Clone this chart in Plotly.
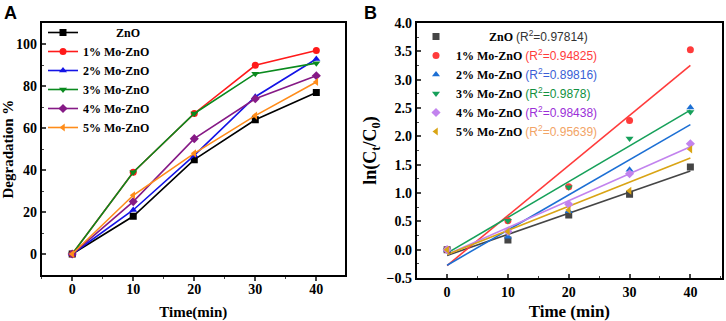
import numpy as np
import plotly.graph_objects as go

# ---------------- data ----------------
time_min = [0, 10, 20, 30, 40]
series_names = ["ZnO", "1% Mo-ZnO", "2% Mo-ZnO", "3% Mo-ZnO", "4% Mo-ZnO", "5% Mo-ZnO"]

# Panel A: degradation %
deg_zno = [0, 18, 45, 64, 77]
deg_mo1 = [0, 39, 67, 90, 97]
deg_mo2 = [0, 21, 47, 75, 93]
deg_mo3 = [0, 39, 67, 86, 91]
deg_mo4 = [0, 25, 55, 74, 85]
deg_mo5 = [0, 28, 48, 66, 82]

# Panel B: ln(Ct/C0)
ln_zno = [0, 0.17, 0.61, 0.98, 1.46]
ln_mo1 = [0, 0.51, 1.11, 2.28, 3.53]
ln_mo2 = [0, 0.23, 0.68, 1.41, 2.51]
ln_mo3 = [0, 0.51, 1.10, 1.96, 2.43]
ln_mo4 = [0, 0.32, 0.80, 1.34, 1.87]
ln_mo5 = [0, 0.32, 0.70, 1.04, 1.77]
r2_values = ["0.97814", "0.94825", "0.89816", "0.9878", "0.98438", "0.95639"]

x_ticks_A = [0, 10, 20, 30, 40]
y_ticks_A = [0, 20, 40, 60, 80, 100]
y_ticks_B = [-0.5, 0.0, 0.5, 1.0, 1.5, 2.0, 2.5, 3.0, 3.5, 4.0]

deg_series = [deg_zno, deg_mo1, deg_mo2, deg_mo3, deg_mo4, deg_mo5]
ln_series = [ln_zno, ln_mo1, ln_mo2, ln_mo3, ln_mo4, ln_mo5]

# ---------------- styles ----------------
colors_A = ["#000000", "#ff1a1a", "#1414e6", "#0a8a1e", "#861a86", "#ff8c1a"]
colors_B = ["#454545", "#ff3b3b", "#1c6fd4", "#16a05a", "#c283ee", "#d9a414"]
r2_colors = ["#333333", "#ff3b3b", "#3a5fd6", "#11913f", "#9b30d8", "#f2a466"]
symbols = ["square", "circle", "triangle-up", "triangle-down", "diamond", "triangle-left"]

SERIF = "Liberation Serif"
SANS = "Liberation Sans"
W, H = 726, 321

fig = go.Figure()

pad_A = "\u00a0" * 11
pad_B = "\u00a0" * 11

# Panel A traces
for i, name in enumerate(series_names):
    fig.add_trace(go.Scatter(
        x=time_min, y=deg_series[i], mode="lines+markers",
        name=(pad_A + name) if i == 0 else name,
        line=dict(color=colors_A[i], width=1.6),
        marker=dict(symbol=symbols[i], size=7, color=colors_A[i]),
        xaxis="x", yaxis="y", legend="legend",
    ))

# Panel B: fitted lines (computed from the data) and markers
for i, name in enumerate(series_names):
    slope, intercept = np.polyfit(time_min, ln_series[i], 1)
    xs = np.array([time_min[0], time_min[-1]], dtype=float)
    fig.add_trace(go.Scatter(
        x=xs, y=slope * xs + intercept, mode="lines",
        line=dict(color=colors_B[i], width=1.6),
        showlegend=False, hoverinfo="skip",
        xaxis="x2", yaxis="y2",
    ))
for i, name in enumerate(series_names):
    label = (pad_B + name) if i == 0 else name
    label += (" <span style='font-family:%s;font-weight:normal;font-size:12px;color:%s'>"
              "(R<sup>2</sup>=%s)</span>" % (SANS, r2_colors[i], r2_values[i]))
    fig.add_trace(go.Scatter(
        x=time_min, y=ln_series[i], mode="markers", name=label,
        marker=dict(symbol=symbols[i], size=7, color=colors_B[i]),
        xaxis="x2", yaxis="y2", legend="legend2",
    ))

tick_font = dict(family=SERIF, size=14, color="black", weight="bold")
title_font = dict(family=SERIF, size=15, color="black", weight="bold")

frame = dict(showline=True, linewidth=2, linecolor="black", mirror=True,
             showgrid=False, zeroline=False, automargin=False)

fig.update_layout(
    width=W, height=H,
    margin=dict(l=0, r=0, t=0, b=0, pad=0, autoexpand=False),
    paper_bgcolor="white", plot_bgcolor="white",
    xaxis=dict(domain=[41.7 / W, 345 / W], range=[-5, 44.7], anchor="y",
               tickvals=x_ticks_A, ticks="outside", ticklen=4, tickwidth=1.5,
               ticklabelstandoff=-4,
               minor=dict(dtick=5, tick0=0, ticks="outside", ticklen=2, tickwidth=1.2),
               tickfont=tick_font,
               title=dict(text="Time(min)", font=title_font, standoff=11), **frame),
    yaxis=dict(domain=[1 - 275 / H, 1 - 23.3 / H], range=[-10, 110], anchor="x",
               tickvals=y_ticks_A, ticks="inside", ticklen=4, tickwidth=1.5,
               minor=dict(dtick=10, tick0=0, ticks="inside", ticklen=2, tickwidth=1.2),
               tickfont=tick_font,
               title=dict(text="Degradation %", font=title_font, standoff=4), **frame),
    xaxis2=dict(domain=[416.7 / W, 722 / W], range=[-5, 45.2], anchor="y2",
                tickvals=x_ticks_A, ticks="inside", ticklen=4, tickwidth=1.5,
                minor=dict(dtick=5, tick0=0, ticks="inside", ticklen=2, tickwidth=1.2),
                tickfont=dict(family=SERIF, size=14, color="black", weight="bold"),
                title=dict(text="Time (min)", font=dict(family=SERIF, size=17, color="black", weight="bold"),
                           standoff=6), **frame),
    yaxis2=dict(domain=[1 - 278 / H, 1 - 23 / H], range=[-0.5, 4.0], anchor="x2",
                tickvals=y_ticks_B, tickformat=".1f", ticks="inside", ticklen=4, tickwidth=1.5,
                minor=dict(dtick=0.25, tick0=0, ticks="inside", ticklen=2, tickwidth=1.2),
                tickfont=dict(family=SERIF, size=14, color="black", weight="bold"),
                title=dict(text="ln(C<sub>t</sub>/C<sub>0</sub>)",
                           font=dict(family=SERIF, size=18, color="black", weight="bold"), standoff=5),
                **frame),
    legend=dict(x=43 / W, y=1 - 18 / H, xanchor="left", yanchor="top",
                bgcolor="rgba(0,0,0,0)", borderwidth=0,
                font=dict(family=SERIF, size=12, color="black", weight="bold"),
                itemwidth=30, tracegroupgap=0),
    legend2=dict(x=416 / W, y=1 - 22 / H, xanchor="left", yanchor="top",
                 bgcolor="rgba(0,0,0,0)", borderwidth=0,
                 font=dict(family=SERIF, size=12, color="black", weight="bold"),
                 itemwidth=30, tracegroupgap=0),
    annotations=[
        dict(text="A", x=2 / W, y=1 - 13 / H, xref="paper", yref="paper",
             xanchor="left", yanchor="middle", showarrow=False,
             font=dict(family=SANS, size=18, color="black", weight="bold")),
        dict(text="B", x=362 / W, y=1 - 13 / H, xref="paper", yref="paper",
             xanchor="left", yanchor="middle", showarrow=False,
             font=dict(family=SANS, size=18, color="black", weight="bold")),
    ],
    showlegend=True,
)

fig.write_html("out.html",
               config={"displayModeBar": False},
               post_script="document.body.style.margin='0';document.body.style.overflow='hidden';")
